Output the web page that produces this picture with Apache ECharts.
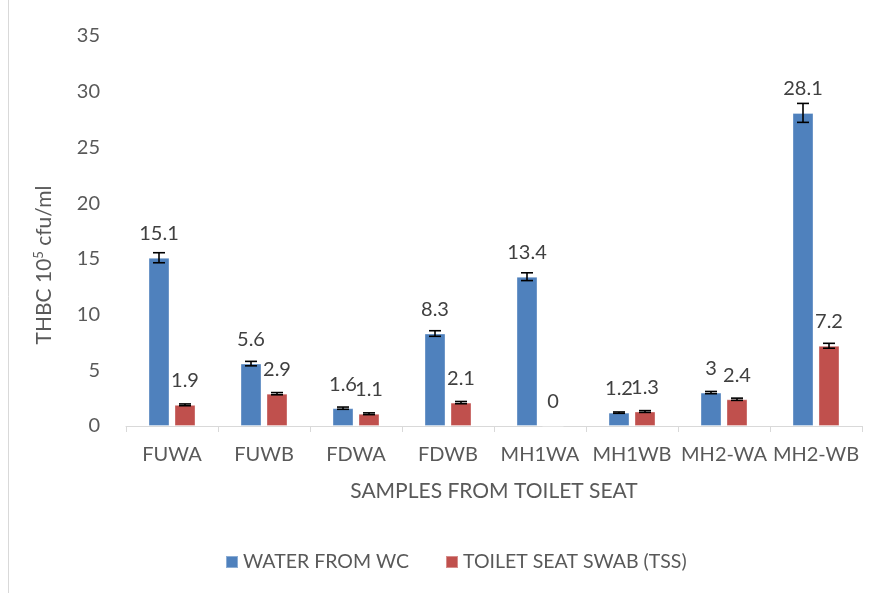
<!DOCTYPE html>
<html>
<head>
<meta charset="utf-8">
<script src="https://cdn.jsdelivr.net/npm/echarts@6/dist/echarts.min.js"></script>
<style>html,body{margin:0;padding:0;background:#fff;}#c{width:878px;height:593px;}</style>
</head>
<body>
<div id="c"></div>
<script>
const categories = ['FUWA','FUWB','FDWA','FDWB','MH1WA','MH1WB','MH2-WA','MH2-WB'];
const waterValues = [15.1, 5.6, 1.6, 8.3, 13.4, 1.2, 3, 28.1];
const swabValues = [1.9, 2.9, 1.1, 2.1, 0, 1.3, 2.4, 7.2];
const waterErrors = [0.45, 0.2, 0.1, 0.25, 0.35, 0.06, 0.1, 0.85];
const swabErrors = [0.08, 0.1, 0.08, 0.1, 0, 0.08, 0.1, 0.22];
const yTicks = [0, 5, 10, 15, 20, 25, 30, 35];

const FONT = 'Lato, "Noto Sans", sans-serif';
const BAR_W = 21, GAP = 5;
const OFF = (BAR_W + GAP) / 2;

function errSeries(values, errors, dir) {
  return {
    type: 'custom',
    silent: true,
    z: 10,
    data: values.map((v, i) => [i, v, errors[i]]),
    renderItem: function (params, api) {
      const i = api.value(0), v = api.value(1), e = api.value(2);
      if (!e) return null;
      const hi = api.coord([i, v + e]);
      const lo = api.coord([i, v - e]);
      const x = hi[0] + dir * OFF;
      const cap = 6;
      const st = { stroke: '#000', lineWidth: 1.6 };
      return {
        type: 'group',
        children: [
          { type: 'line', shape: { x1: x, y1: hi[1], x2: x, y2: lo[1] }, style: st },
          { type: 'line', shape: { x1: x - cap, y1: hi[1], x2: x + cap, y2: hi[1] }, style: st },
          { type: 'line', shape: { x1: x - cap, y1: lo[1], x2: x + cap, y2: lo[1] }, style: st }
        ]
      };
    }
  };
}

const chart = echarts.init(document.getElementById('c'), null, { renderer: 'canvas' });
chart.setOption({
  backgroundColor: '#fff',
  animation: false,
  textStyle: { fontFamily: FONT },
  grid: { left: 126, right: 16, top: 36, bottom: 167, containLabel: false },
  legend: {
    left: 220, top: 547,
    itemWidth: 12, itemHeight: 12, itemGap: 36,
    icon: 'rect',
    textStyle: { fontFamily: FONT, fontSize: 19.5, color: '#595959' },
    data: ['WATER FROM WC', 'TOILET SEAT SWAB (TSS)']
  },
  xAxis: {
    type: 'category',
    data: categories,
    axisLine: { lineStyle: { color: '#d9d9d9', width: 1 } },
    axisTick: { show: true, length: 6, lineStyle: { color: '#d9d9d9' } },
    axisLabel: { color: '#595959', fontSize: 20, fontFamily: FONT, margin: 19, interval: 0 },
    name: 'SAMPLES FROM TOILET SEAT',
    nameLocation: 'middle',
    nameGap: 55,
    nameTextStyle: { color: '#595959', fontSize: 21, fontFamily: FONT }
  },
  yAxis: {
    type: 'value',
    min: 0, max: 35, interval: 5,
    axisLine: { show: false },
    axisTick: { show: false },
    splitLine: { show: false },
    axisLabel: {
      color: '#595959', fontSize: 20, fontFamily: FONT, margin: 26,
      formatter: function (v) { return yTicks.indexOf(v) >= 0 ? String(v) : ''; }
    }
  },
  graphic: [
    { type: 'line', shape: { x1: 8.5, y1: 0, x2: 8.5, y2: 593 }, style: { stroke: '#d9d9d9', lineWidth: 1 } },
    {
      type: 'text', x: 44, y: 265, rotation: Math.PI / 2,
      style: {
        text: '{a|THBC 10}{s|5}{a| cfu/ml}',
        align: 'center', verticalAlign: 'middle',
        rich: {
          a: { fontFamily: FONT, fontSize: 21, fill: '#595959', color: '#595959' },
          s: { fontFamily: FONT, fontSize: 13, fill: '#595959', color: '#595959', verticalAlign: 'top', padding: [0, 0, 10, 0] }
        }
      }
    }
  ],
  series: [
    {
      name: 'WATER FROM WC', type: 'bar', data: waterValues,
      barWidth: BAR_W, barGap: (GAP / BAR_W * 100).toFixed(1) + '%',
      itemStyle: { color: '#4f81bd', borderColor: 'rgba(255,255,255,0.35)', borderWidth: 1 },
      label: { show: true, position: 'top', distance: 14, color: '#404040', fontSize: 20, fontFamily: FONT }
    },
    {
      name: 'TOILET SEAT SWAB (TSS)', type: 'bar', data: swabValues,
      barWidth: BAR_W,
      itemStyle: { color: '#c0504d', borderColor: 'rgba(255,255,255,0.35)', borderWidth: 1 },
      label: { show: true, position: 'top', distance: 14, color: '#404040', fontSize: 20, fontFamily: FONT }
    },
    errSeries(waterValues, waterErrors, -1),
    errSeries(swabValues, swabErrors, 1)
  ]
});
</script>
</body>
</html>
